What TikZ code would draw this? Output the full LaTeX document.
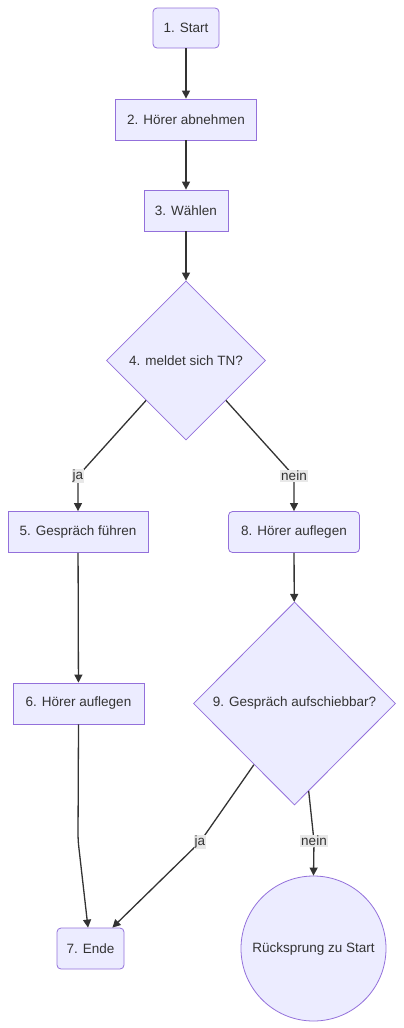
\documentclass[tikz,border=0pt]{standalone}
\usepackage{fontspec}
\setmainfont{Liberation Sans}
\usetikzlibrary{shapes.geometric,arrows.meta,calc}
\definecolor{nodefill}{HTML}{ECECFF}
\definecolor{nodeline}{HTML}{9370DB}
\definecolor{edgecol}{HTML}{333333}
\definecolor{lblbg}{HTML}{E8E8E8}
\begin{document}
\begin{tikzpicture}[x=1pt,y=-1pt,
  base/.style={draw=nodeline,fill=nodefill,line width=0.8pt,text=edgecol,font=\fontsize{13.5}{16}\selectfont,inner sep=0pt},
  sq/.style={base,rectangle},
  rnd/.style={base,rectangle,rounded corners=4pt},
  dia/.style={base,diamond,aspect=1},
  circ/.style={base,circle},
  conn/.style={draw=edgecol,line width=1.3pt,-{Triangle[length=8pt,width=8pt]}},
  lbl/.style={fill=lblbg,text=edgecol,font=\fontsize{13.5}{16}\selectfont,inner sep=1pt}]
\useasboundingbox (0,0) rectangle (404,1028);
\node[rnd,minimum width=66,minimum height=40] (n1) at (186,28) {1. Start};
\node[sq,minimum width=141,minimum height=41] (n2) at (186,119.5) {2. Hörer abnehmen};
\node[sq,minimum width=84,minimum height=41] (n3) at (186,210.5) {3. Wählen};
\node[dia,minimum width=159,minimum height=159] (n4) at (186,360.5) {4. meldet sich TN?};
\node[sq,minimum width=140,minimum height=41] (n5) at (78,532) {5. Gespräch führen};
\node[rnd,minimum width=131,minimum height=41] (n8) at (294,532) {8. Hörer auflegen};
\node[sq,minimum width=131,minimum height=41] (n6) at (78.5,703.5) {6. Hörer auflegen};
\node[dia,minimum width=202,minimum height=203] (n9) at (294.5,703.5) {9. Gespräch aufschiebbar?};
\node[rnd,minimum width=67,minimum height=41] (n7) at (90.5,948.5) {7. Ende};
\node[circ,minimum size=145] (n10) at (313.5,948.5) {Rücksprung zu Start};

\coordinate (b45) at (78,476);
\coordinate (b48) at (294,476);
\coordinate (b67) at (78,840);
\coordinate (b97) at (200,842);
\coordinate (b910) at (314,841);

\draw[conn] (n1) -- (n2);
\draw[conn] (n2) -- (n3);
\draw[conn] (n3) -- (n4);
\draw[conn,rounded corners=6pt] (n4.south west) -- (b45) -- (n5.north);
\draw[conn,rounded corners=6pt] (n4.south east) -- (b48) -- (n8.north);
\draw[conn] (n5) -- (n6);
\draw[conn] (n8) -- (n9);
\draw[conn,rounded corners=6pt] (n6.south) -- (b67) -- ($(n7.north)+(-2.5,0)$);
\draw[conn,rounded corners=6pt] ($(n9.west)!0.6!(n9.south)$) -- (b97) -- ($(n7.north east)+(-12,0)$);
\draw[conn,rounded corners=6pt] ($(n9.east)!0.86!(n9.south)$) -- (b910) -- (n10.north);

\node[lbl] (l45) at (b45) {ja};
\node[lbl] (l48) at (b48) {nein};
\node[lbl] (l97) at (b97) {ja};
\node[lbl] (l910) at (b910) {nein};
\end{tikzpicture}
\end{document}
